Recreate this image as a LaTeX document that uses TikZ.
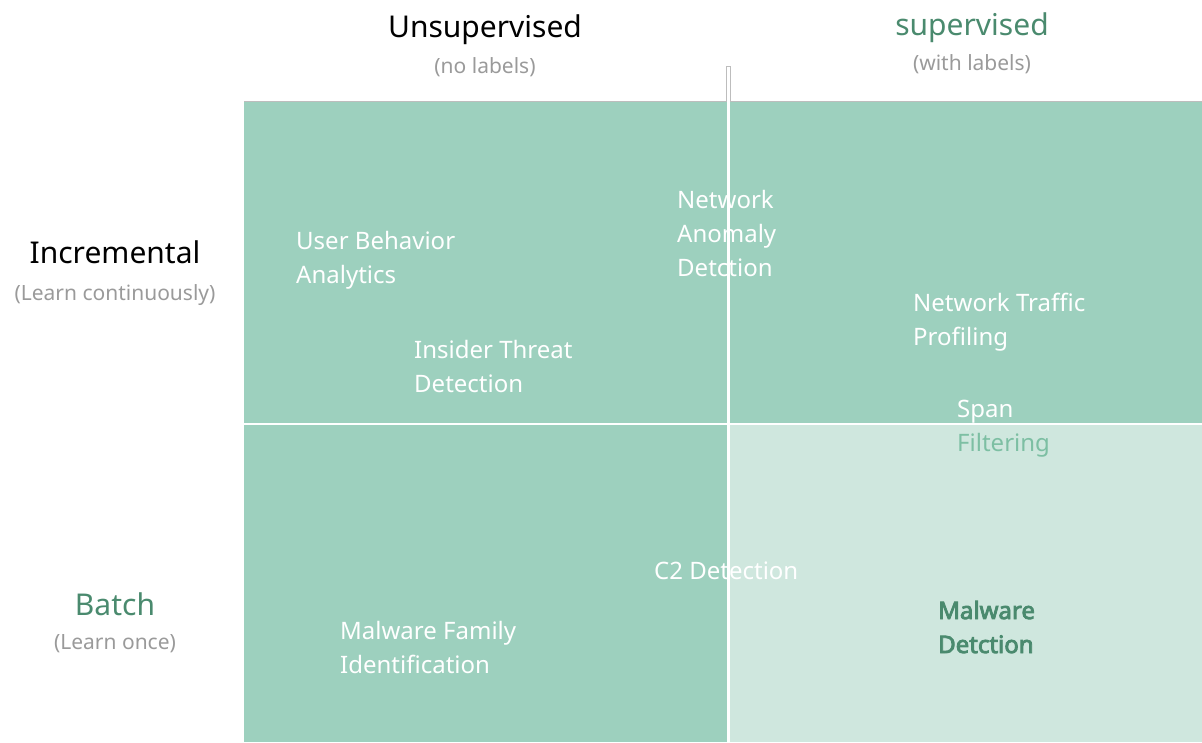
\documentclass[tikz,border=0pt]{standalone}
\usepackage{fontspec}
\setmainfont{Noto Sans}
\newfontfamily\heavyfont{Noto Sans}[FakeBold=3.5]
\definecolor{quad}{HTML}{9DD0BE}
\definecolor{quadlight}{HTML}{CFE7DE}
\definecolor{headgreen}{HTML}{4A8A6E}
\definecolor{subgray}{HTML}{9A9A9A}
\definecolor{edgegray}{HTML}{BDBDBD}
\definecolor{filtgreen}{HTML}{7DBFA3}
\begin{document}
\begin{tikzpicture}[x=1pt,y=-1pt,
    head/.style={anchor=base,inner sep=0pt,font=\fontsize{30}{36}\selectfont},
    sub/.style={anchor=base,inner sep=0pt,text=subgray,font=\fontsize{21}{26}\selectfont},
    lbl/.style={anchor=base west,inner sep=0pt,align=left,text=white,font=\fontsize{24}{34}\selectfont}]
\useasboundingbox (0,0) rectangle (1202,742);

% quadrants
\fill [quad] (244,101) rectangle (1202,742);
\fill [quadlight] (728,424) rectangle (1202,742);
\draw [edgegray] (244,101) -- (1202,101);
\draw [white, line width=2.5pt] (244,424) -- (1202,424);
\draw [edgegray, fill=white] (726,66) rectangle (730,101);
\fill [white] (726.5,101) rectangle (729.5,742);

% column heads
\node [head] (unsup) at (485,37) {Unsupervised};
\node [sub] (nolab) at (485,73) {(no labels)};
\node [head, text=headgreen] (sup) at (972,35) {supervised};
\node [sub] (withlab) at (972,70) {(with labels)};

% row heads
\node [head] (incr) at (115,263) {Incremental};
\node [sub] (cont) at (115,300) {(Learn continuously)};
\node [head, text=headgreen] (batch) at (115,615) {Batch};
\node [sub] (once) at (115,649) {(Learn once)};

% use cases (anchored at the baseline of the last line)
\node [lbl] (uba) at (296,283) {User Behavior\\Analytics};
\node [lbl] (insider) at (414,392) {Insider Threat\\Detection};
\node [lbl] (netanom) at (677,276) {Network\\Anomaly\\Detction};
\node [lbl] (traffic) at (913,345) {Network Traffic\\Profiling};
\node [lbl] (span) at (957,451) {Span\\\textcolor{filtgreen}{Filtering}};
\node [lbl] (ctwo) at (654,579) {C2 Detection};
\node [lbl] (family) at (340,673) {Malware Family\\Identification};
\node [lbl, text=headgreen, font=\fontsize{24}{34}\selectfont\heavyfont] (malware) at (938,653) {Malware\\Detction};
\end{tikzpicture}
\end{document}
